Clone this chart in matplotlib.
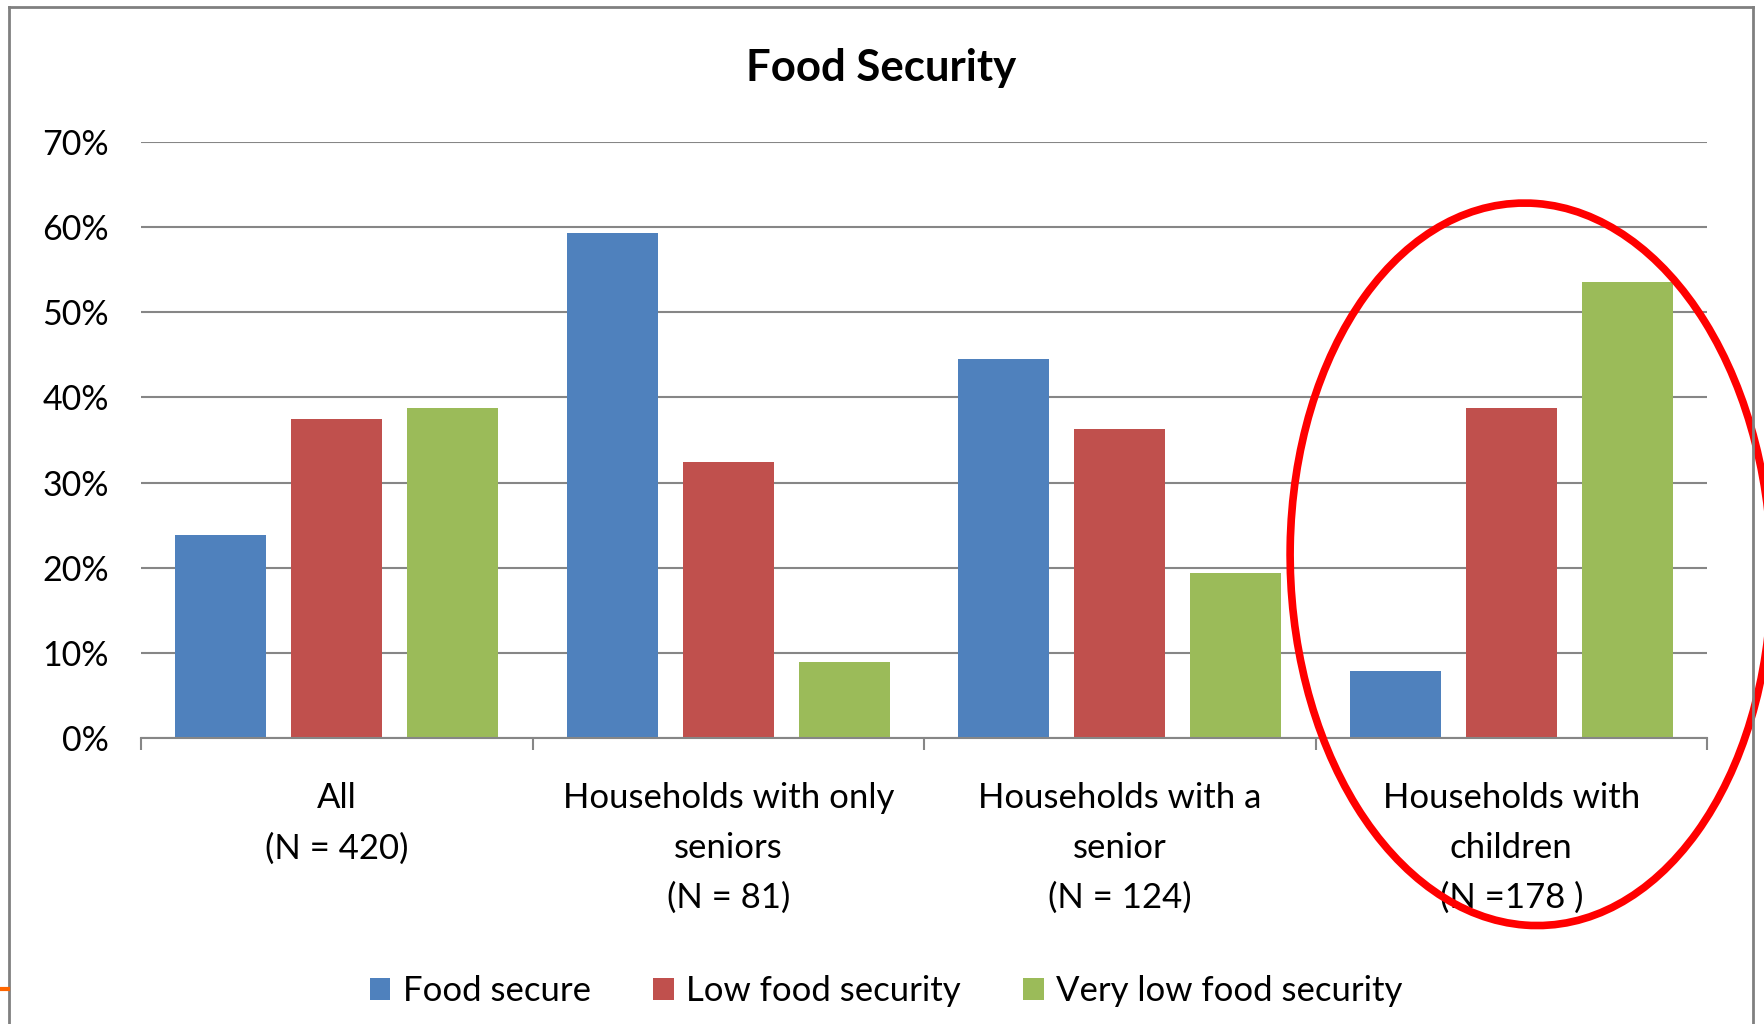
import matplotlib
matplotlib.use('Agg')
import matplotlib.pyplot as plt
from matplotlib.patches import Ellipse
from matplotlib.lines import Line2D
from matplotlib.ticker import PercentFormatter
import numpy as np

plt.rcParams['font.family'] = ['Lato', 'DejaVu Sans']

categories = ['All\n(N = 420)',
              'Households with only\nseniors\n(N = 81)',
              'Households with a\nsenior\n(N = 124)',
              'Households with\nchildren\n(N =178 )']
series = ['Food secure', 'Low food security', 'Very low food security']
food_secure = [0.238, 0.593, 0.445, 0.079]
low_security = [0.375, 0.324, 0.363, 0.388]
very_low_security = [0.388, 0.089, 0.194, 0.535]
colors = ['#4F81BD', '#C0504D', '#9BBB59']
yticks = [0, 0.1, 0.2, 0.3, 0.4, 0.5, 0.6, 0.7]
highlight = 3  # circled category

W, H = 1764, 1024
fig = plt.figure(figsize=(W / 100, H / 100), dpi=100, facecolor='white')
ax = fig.add_axes([141 / W, 1 - 738 / H, 1566 / W, 596 / H])

x = np.arange(len(categories))
offsets = [-0.296, 0, 0.296]
for vals, off, col, name in zip([food_secure, low_security, very_low_security], offsets, colors, series):
    ax.bar(x + off, vals, width=0.233, color=col, label=name, zorder=3)

gray = '#868686'
ax.set_xlim(-0.5, len(categories) - 0.5)
ax.set_ylim(0, 0.7)
ax.set_yticks(yticks)
ax.yaxis.set_major_formatter(PercentFormatter(1.0, decimals=0))
ax.yaxis.grid(True, color=gray, lw=1.5, zorder=0)
ax.tick_params(axis='y', length=0, pad=23, labelsize=24.5)

for s in ['top', 'right', 'left']:
    ax.spines[s].set_visible(False)
ax.spines['bottom'].set_color(gray)
ax.spines['bottom'].set_linewidth(1.5)
ax.spines['bottom'].set_zorder(4)

ax.set_xticks(x)
ax.set_xticklabels(categories, fontsize=25, linespacing=1.68)
ax.set_xticks(np.arange(len(categories) + 1) - 0.5, minor=True)
ax.tick_params(axis='x', which='major', length=0, pad=32)
ax.tick_params(axis='x', which='minor', length=8.6, width=1.5, color=gray)

# red highlight ring around the last group
ring = Ellipse((highlight + 0.05, 0.204), 1.23, 0.848, angle=-2, fill=False,
               ec='#FF0000', lw=5.5, clip_on=False, zorder=6)
ax.add_patch(ring)

fig.text(881 / W, 1 - 68 / H, 'Food Security', ha='center', va='center',
         fontsize=31.5, fontweight='bold')

fig.legend(loc='center', bbox_to_anchor=(886 / W, 1 - 991 / H), ncol=3, frameon=False,
           fontsize=25, handlelength=0.6, handleheight=0.6, handletextpad=0.35,
           columnspacing=1.8)

# slide frame
fig.add_artist(Line2D([9 / W, 9 / W], [0, 1 - 7 / H], color='#808080', lw=2))
fig.add_artist(Line2D([9 / W, 1753 / W], [1 - 7 / H, 1 - 7 / H], color='#808080', lw=2))
fig.add_artist(Line2D([1753 / W, 1753 / W], [0, 1 - 7 / H], color='#808080', lw=2))
fig.add_artist(Line2D([0, 8 / W], [1 - 989 / H, 1 - 989 / H], color='#FF6600', lw=3))

fig.savefig('out.png', dpi=100, facecolor='white')
